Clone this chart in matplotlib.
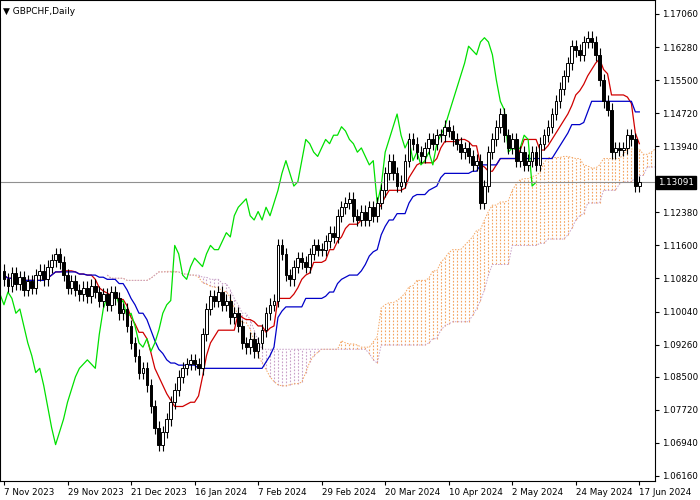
import matplotlib
matplotlib.use("Agg")
import matplotlib.pyplot as plt
import numpy as np
import pandas as pd

closes = [1.1080,1.1065,1.1095,1.1070,1.1085,1.1055,1.1075,1.1060,1.1090,1.1100,
          1.1080,1.1110,1.1125,1.1140,1.1120,1.1090,1.1060,1.1075,1.1055,1.1045,
          1.1060,1.1040,1.1065,1.1050,1.1030,1.1045,1.1020,1.1050,1.1035,1.1000,
          1.1010,1.0970,1.0930,1.0900,1.0860,1.0870,1.0830,1.0780,1.0730,1.0690,
          1.0720,1.0750,1.0790,1.0820,1.0850,1.0870,1.0880,1.0890,1.0880,1.0870,
          1.0950,1.1010,1.1040,1.1030,1.1050,1.1020,1.1030,1.0990,1.1000,1.0970,
          1.0930,1.0920,1.0940,1.0910,1.0930,1.0960,1.1000,1.1020,1.1030,1.1160,
          1.1140,1.1090,1.1080,1.1110,1.1130,1.1120,1.1110,1.1140,1.1160,1.1150,
          1.1150,1.1170,1.1190,1.1180,1.1230,1.1250,1.1260,1.1270,1.1230,1.1220,
          1.1240,1.1220,1.1250,1.1230,1.1260,1.1290,1.1330,1.1360,1.1330,1.1300,
          1.1310,1.1360,1.1410,1.1400,1.1380,1.1370,1.1390,1.1410,1.1400,1.1420,
          1.1420,1.1440,1.1430,1.1410,1.1400,1.1380,1.1390,1.1370,1.1350,1.1360,
          1.1260,1.1300,1.1380,1.1410,1.1440,1.1470,1.1420,1.1390,1.1410,1.1360,
          1.1380,1.1350,1.1360,1.1380,1.1350,1.1400,1.1420,1.1440,1.1470,1.1500,
          1.1530,1.1560,1.1590,1.1630,1.1620,1.1610,1.1640,1.1650,1.1640,1.1610,
          1.1550,1.1500,1.1480,1.1380,1.1390,1.1385,1.1390,1.1420,1.1410,1.1300,1.1309]
first_open = 1.1100
date_labels = ["7 Nov 2023","29 Nov 2023","21 Dec 2023","16 Jan 2024","7 Feb 2024",
               "29 Feb 2024","20 Mar 2024","10 Apr 2024","2 May 2024","24 May 2024","17 Jun 2024"]
price_ticks = [1.17060,1.16280,1.15500,1.14720,1.13940,1.13160,1.12380,1.11600,
               1.10820,1.10040,1.09260,1.08500,1.07720,1.06940,1.06160]
last_price = 1.13091

c = np.array(closes)
o = np.concatenate([[first_open], c[:-1]])
wick = 0.0015
h = np.maximum(o, c) + wick
l = np.minimum(o, c) - wick
n = len(c)
idx = np.arange(n)

H = pd.Series(h); L = pd.Series(l)
tenkan = (H.rolling(9, min_periods=1).max() + L.rolling(9, min_periods=1).min()) / 2
kijun = (H.rolling(26, min_periods=1).max() + L.rolling(26, min_periods=1).min()) / 2
spanA = ((tenkan + kijun) / 2).values
spanB = ((H.rolling(52, min_periods=1).max() + L.rolling(52, min_periods=1).min()) / 2).values

fig = plt.figure(figsize=(7, 5), dpi=100)
ax = fig.add_axes([0.0, 0.038, 0.936, 0.962])
ax.set_xlim(-1, 164)
ax.set_ylim(1.06042, 1.17390)

xs = idx + 26
for x, a, b in zip(xs, spanA, spanB):
    col = '#F4A460' if a >= b else '#C8A0C8'
    ax.vlines(x, min(a, b), max(a, b), colors=col, linestyles=(0, (1.5, 1.5)), linewidth=0.8)
ax.plot(xs, spanA, color='#F4A460', lw=0.7, ls=(0, (1.5, 1.5)))
ax.plot(xs, spanB, color='#C8A0C8', lw=0.7, ls=(0, (1.5, 1.5)))

ax.plot(idx, tenkan, color='#d00000', lw=0.9)
ax.plot(idx, kijun, color='#0000c8', lw=0.9)
ax.plot(idx - 26, c, color='#00e000', lw=0.9)

ax.axhline(last_price, color='#909090', lw=0.8)

for i in idx:
    ax.vlines(i, l[i], h[i], color='black', lw=0.8, zorder=3)
    bull = c[i] >= o[i]
    bot = min(o[i], c[i]); ht = max(abs(c[i] - o[i]), 0.0002)
    ax.add_patch(plt.Rectangle((i - 0.35, bot), 0.7, ht, facecolor='white' if bull else 'black',
                               edgecolor='black', lw=0.7, zorder=4))

ax.yaxis.tick_right()
ax.set_yticks(price_ticks)
ax.set_yticklabels(["" if abs(p - 1.13160) < 1e-6 else f"{p:.5f}" for p in price_ticks], fontsize=6.3)
ax.set_xticks(np.arange(0, n, 16)[:len(date_labels)])
ax.set_xticklabels(date_labels, fontsize=6.3, ha='left')
ax.tick_params(length=3, pad=2)
for s in ax.spines.values():
    s.set_linewidth(0.8)

ax.text(1.004, last_price, f"{last_price:.5f}", transform=ax.get_yaxis_transform(),
        va='center', ha='left', fontsize=6.3, color='white',
        bbox=dict(boxstyle='square,pad=0.25', fc='black', ec='black'), zorder=10, clip_on=False)
ax.text(0.005, 0.985, "\u25BC GBPCHF,Daily", transform=ax.transAxes, fontsize=6.5, va='top', ha='left',
        bbox=dict(boxstyle='square,pad=0.2', fc='white', ec='none'))

fig.savefig("out.png", dpi=100)
